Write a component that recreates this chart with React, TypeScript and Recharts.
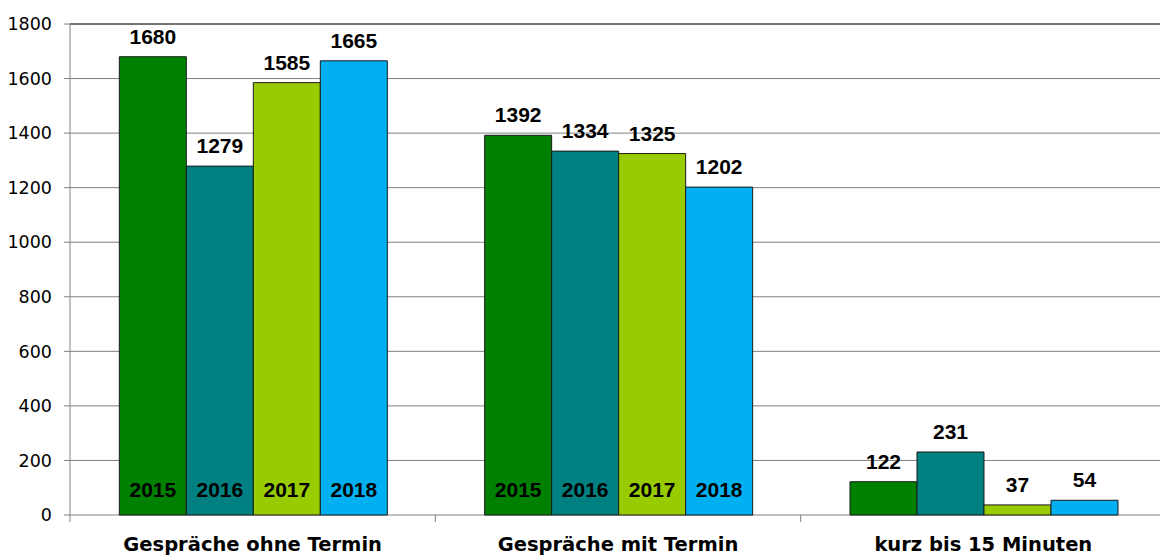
import React from "react";
import { BarChart, Bar, XAxis, YAxis, CartesianGrid, LabelList, ReferenceLine } from "recharts";

const categories = ["Gespräche ohne Termin", "Gespräche mit Termin", "kurz bis 15 Minuten"];
const years = ["2015", "2016", "2017", "2018"];
const values2015 = [1680, 1392, 122];
const values2016 = [1279, 1334, 231];
const values2017 = [1585, 1325, 37];
const values2018 = [1665, 1202, 54];
const yTicks = [0, 200, 400, 600, 800, 1000, 1200, 1400, 1600, 1800];
const colors = ["#008000", "#008080", "#99CC00", "#00B0F0"];

const data = categories.map((c, i) => ({
  name: c,
  y2015: values2015[i],
  y2016: values2016[i],
  y2017: values2017[i],
  y2018: values2018[i],
}));

const series = [
  { key: "y2015", values: values2015 },
  { key: "y2016", values: values2016 },
  { key: "y2017", values: values2017 },
  { key: "y2018", values: values2018 },
];

const labelFont = "'Liberation Sans', Arial, sans-serif";

const TopLabel = (props: any) => {
  const { x, y, width, value } = props;
  return (
    <text x={x + width / 2} y={y - 13} textAnchor="middle" fontFamily={labelFont} fontWeight="bold" fontSize={21} fill="#000">
      {value}
    </text>
  );
};

const makeYearLabel = (year: string) => (props: any) => {
  const { x, y, width, height, index } = props;
  if (index > 1) return null;
  return (
    <text x={x + width / 2} y={y + height - 18} textAnchor="middle" fontFamily={labelFont} fontWeight="bold" fontSize={21} fill="#000">
      {year}
    </text>
  );
};

const CatTick = (props: any) => {
  const { x, y, payload, index, width, visibleTicksCount } = props;
  const count = visibleTicksCount || categories.length;
  const half = width / count / 2;
  return (
    <g>
      <line x1={x - half} x2={x - half} y1={y} y2={y + 7} stroke="#808080" />
      {index === count - 1 && <line x1={x + half} x2={x + half} y1={y} y2={y + 7} stroke="#808080" />}
      <text x={x} y={y + 36} textAnchor="middle" fontFamily="'DejaVu Sans', sans-serif" fontWeight="bold" fontSize={19.5} fill="#000">
        {payload.value}
      </text>
    </g>
  );
};

export default function App() {
  return (
    <div style={{ position: "absolute", left: 0, top: 0, width: 1160, height: 558, overflow: "hidden", background: "#fff" }}>
      <BarChart width={1166} height={558} data={data} margin={{ top: 24, right: 0, left: 0, bottom: 0 }} barCategoryGap="13.5%" barGap={0}>
        <CartesianGrid horizontal vertical={false} stroke="#808080" />
        <XAxis dataKey="name" type="category" tickLine={false} tickSize={0} tickMargin={0} axisLine={false} height={43} tick={<CatTick />} interval={0} />
        <YAxis
          domain={[0, 1800]}
          ticks={yTicks}
          width={70}
          tickSize={6}
          tickMargin={12}
          axisLine={{ stroke: "#808080" }}
          tickLine={{ stroke: "#808080" }}
          tick={{ fill: "#000", fontSize: 17.5, fontFamily: "'DejaVu Sans', sans-serif" }}
        />
        <ReferenceLine y={1800} stroke="#262626" strokeWidth={1.2} />
        {series.map((s, i) => (
          <Bar key={s.key} dataKey={s.key} fill={colors[i]} stroke="#1a1a1a" strokeWidth={1} isAnimationActive={false}>
            <LabelList dataKey={s.key} content={<TopLabel />} />
            <LabelList dataKey={s.key} content={makeYearLabel(years[i])} />
          </Bar>
        ))}
      </BarChart>
    </div>
  );
}
